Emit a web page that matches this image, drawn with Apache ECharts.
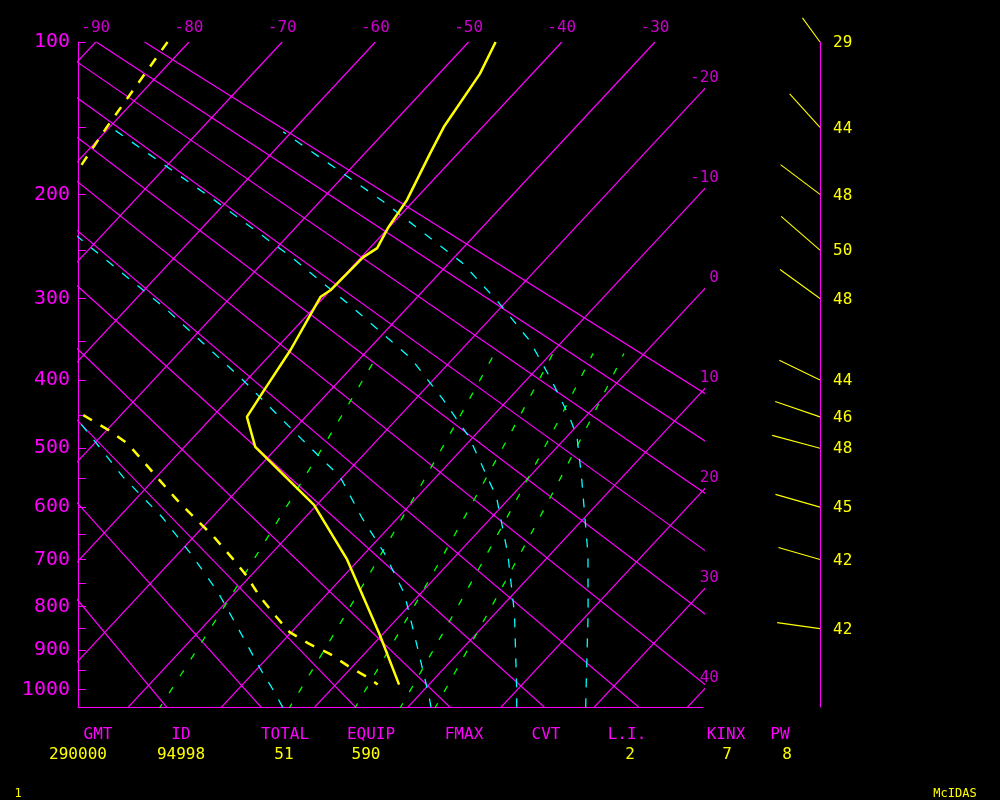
<!DOCTYPE html>
<html>
<head>
<meta charset="utf-8">
<script src="https://cdn.jsdelivr.net/npm/echarts@6/dist/echarts.min.js"></script>
<style>
html,body{margin:0;padding:0;background:#000;}
#chart{width:1000px;height:800px;}
</style>
</head>
<body>
<div id="chart"></div>
<script>
const pressureTicks = [100,150,200,250,300,350,400,450,500,550,600,650,700,750,800,850,900,950,1000];
const pressureLabels = [100,200,300,400,500,600,700,800,900,1000];
const isothermValues = [-90,-80,-70,-60,-50,-40,-30,-20,-10,0,10,20,30,40];
const topIsothermLabels = [-90,-80,-70,-60,-50,-40,-30];
const sideIsothermLabels = [-20,-10,0,10,20,30,40];
const dryAdiabatThetaC = [-20,-10,0,10,20,30,40,50,60,70,80,90];
const mixingRatios = [1,3,5,7,9];                 // g/kg

// moist adiabats (temperature degC / pressure hPa pairs)
const moistAdiabatTemps = [
  [-3.4,-6.1,-9.4,-15.5,-21.9,-28.6,-35.4,-43.6,-53.7,-58.0],
  [12.5,11.3,5.4,-1.7,-7.8,-14.0,-20.3,-28.3,-40.7,-55.9,-70.8,-97.5],
  [21.7,20.0,12.1,5.4,-1.5,-10.5,-17.1,-24.6,-35.7,-47.2,-61.4,-80.2],
  [29.1,26.8,20.0,14.0,5.6,1.1,-1.7,-7.3,-13.6,-20.8,-28.7,-43.2,-60.9]
];
const moistAdiabatPress = [
  [1047,1002,951,858,768,689,618,547,460,428],
  [1047,1020,901,772,689,618,547,485,398,311,244,150],
  [1047,1002,816,689,582,482,426,371,311,258,205,149],
  [1047,985,816,689,547,482,452,400,349,304,262,206,153]
];

const tempPressure = [987,862,700,596,498,452,410,361,298,291,257,248,228,205,168,149,117,100];
const tempValues   = [6.8,-0.4,-11.3,-20.3,-32.4,-36.3,-37.2,-38.3,-40.4,-40.0,-39.8,-39.2,-40.1,-40.8,-43.0,-44.2,-45.6,-47.1];

const dewPressure = [100,150,178,200,300,400,447,472,493,520,553,587,618,655,699,733,776,820,858,886,910,943,972,987];
const dewValues   = [-82.3,-80.3,-79.2,-86,-78,-64,-54.5,-49.8,-46.4,-43.1,-39.3,-35.5,-32.0,-27.9,-23.6,-20.5,-17.1,-13.4,-10.2,-6.9,-3.7,-0.2,3.1,4.5];

const windPressure  = [100,150,200,250,300,400,452,500,600,700,850];
const windSpeed     = [29,44,48,50,48,44,46,48,45,42,42];
const windDirection = [324,318,307,311,306,296,289,285,286,286,278];

const statNames  = ['GMT','ID','TOTAL','EQUIP','FMAX','CVT','L.I.','KINX','PW'];
const statValues = ['290000','94998','51','590','','','2','7','8'];

// ---------------- layout / style ----------------
const statNameX  = [98,181,285,371,464,546,627,726,780];
const statValueX = [78,181,284,366,464,546,630,727,787];
const MAG = '#ff00ff', YEL = '#ffff00', CYA = '#00ffff', GRN = '#00ff00';
const MONO = '"DejaVu Sans Mono", monospace';

// ---------------- thermodynamic diagram coordinates ----------------
const K = 0.286;
const THETA_OFFSET = 0.8;
const Y100 = Math.pow(100, K);
const PX_PER_Y = 186.17;
const GRID_TOP = 42, GRID_H = 665, GRID_LEFT = 78, GRID_W = 625;
const YMAX = Y100 + GRID_H / PX_PER_Y;
const SKEW = 18.617;
const XMIN = -91.91, XMAX = XMIN + GRID_W / 9.32;
function yOf(p){ return Math.pow(p, K); }
function xy(T, p){ const Y = yOf(p); return [T - SKEW * (Y - Y100), Y]; }

function mixLine(w){
  const pts = [];
  for (let p = 1100; p >= 362; p -= 5){
    const es = w * p / (622 + w);
    const l = Math.log(es / 6.112);
    pts.push(xy(243.5 * l / (17.67 - l), p));
  }
  return pts;
}
function dryLine(thC){
  return [1100, 100].map(p => xy((thC + 273.15 + THETA_OFFSET) * Math.pow(p / 1000, K) - 273.15, p));
}

function lineSeries(data, color, width, type, z){
  return { type:'line', xAxisIndex:0, yAxisIndex:0, data, symbol:'none', silent:true,
           animation:false, clip:true, z, lineStyle:{ color, width, type } };
}

const series = [];
isothermValues.forEach(T => series.push(lineSeries([xy(T,1100), xy(T,100)], MAG, 1.2, 'solid', 2)));
dryAdiabatThetaC.forEach(th => series.push(lineSeries(dryLine(th), MAG, 1.2, 'solid', 2)));
mixingRatios.forEach(w => series.push(lineSeries(mixLine(w), GRN, 1.3, [7,13], 3)));
moistAdiabatTemps.forEach((ts, i) => series.push(lineSeries(ts.map((t, j) => xy(t, moistAdiabatPress[i][j])), CYA, 1.3, [9,11], 4)));
series.push(lineSeries(tempPressure.map((p,i) => xy(tempValues[i], p)), YEL, 2.5, 'solid', 6));
series.push(lineSeries(dewPressure.map((p,i) => xy(dewValues[i], p)), YEL, 2.5, [10,10], 6));

const labelBase = { show:true, position:'inside', color:MAG, fontFamily:MONO, fontSize:16 };
series.push({
  type:'scatter', xAxisIndex:0, yAxisIndex:0, silent:true, animation:false, clip:false,
  symbolSize:1, itemStyle:{ color:'rgba(0,0,0,0)' }, z:7,
  data: topIsothermLabels.map(T => ({ value:[T, Y100],
        label:Object.assign({}, labelBase, { align:'center', verticalAlign:'middle', offset:[0,-14], formatter:String(T) }) }))
    .concat(sideIsothermLabels.map(T => ({ value:[XMAX, Y100 + (T - XMAX) / SKEW],
        label:Object.assign({}, labelBase, { align:'right', verticalAlign:'middle', offset:[16,-13], formatter:String(T) }) })))
});

series.push({
  type:'custom', xAxisIndex:1, yAxisIndex:1, silent:true, animation:false, clip:false, z:7,
  data: windPressure.map((p,i) => [1, yOf(p), windSpeed[i], windDirection[i]]),
  encode:{ x:0, y:1 },
  renderItem: (params, api) => {
    const pt = api.coord([api.value(0), api.value(1)]);
    const sp = api.value(2), d = api.value(3) * Math.PI / 180, L = sp * 1.03;
    return { type:'group', children:[
      { type:'line', shape:{ x1:pt[0], y1:pt[1], x2:pt[0] + L * Math.sin(d), y2:pt[1] - L * Math.cos(d) },
        style:{ stroke:YEL, lineWidth:1.1 } },
      { type:'text', x:pt[0] + 13, y:pt[1] + 1,
        style:{ text:String(sp), fill:YEL, font:'16px ' + MONO, align:'left', verticalAlign:'middle',
                textAlign:'left', textVerticalAlign:'middle' } }
    ]};
  }
});

function txt(s, x, y, color, size){
  return { type:'text', x, y, silent:true,
    style:{ text:s, fill:color, font:size + 'px ' + MONO, align:'center', verticalAlign:'middle',
            textAlign:'center', textVerticalAlign:'middle' } };
}
const graphic = [];
statNames.forEach((s,i) => graphic.push(txt(s, statNameX[i], 735, MAG, 16)));
statValues.forEach((s,i) => { if (s) graphic.push(txt(s, statValueX[i], 755, YEL, 16)); });
graphic.push(txt('1', 18, 794, YEL, 12));
graphic.push(txt('McIDAS', 955, 794, YEL, 12));

const option = {
  backgroundColor:'#000',
  animation:false,
  grid:[
    { left:GRID_LEFT, top:GRID_TOP, width:GRID_W, height:GRID_H, containLabel:false },
    { left:760, top:GRID_TOP, width:60, height:GRID_H, containLabel:false }
  ],
  xAxis:[
    { type:'value', gridIndex:0, min:XMIN, max:XMAX, position:'bottom',
      axisLine:{ show:true, onZero:false, lineStyle:{ color:MAG, width:1 } },
      axisTick:{ show:false }, axisLabel:{ show:false }, splitLine:{ show:false } },
    { type:'value', gridIndex:1, min:0, max:1, show:false }
  ],
  yAxis:[
    { type:'value', gridIndex:0, inverse:true, min:Y100, max:YMAX, position:'left',
      axisLine:{ show:true, onZero:false, lineStyle:{ color:MAG, width:1 } },
      axisTick:{ show:true, inside:true, length:8, customValues:pressureTicks.map(yOf), lineStyle:{ color:MAG, width:1 } },
      axisLabel:{ show:true, customValues:pressureLabels.map(yOf),
                  formatter: v => String(Math.round(Math.pow(v, 1 / K))),
                  color:MAG, fontFamily:MONO, fontSize:20, margin:8 },
      splitLine:{ show:false } },
    { type:'value', gridIndex:1, inverse:true, min:Y100, max:YMAX, position:'right',
      axisLine:{ show:true, onZero:false, lineStyle:{ color:MAG, width:1 } },
      axisTick:{ show:false }, axisLabel:{ show:false }, splitLine:{ show:false } }
  ],
  graphic,
  series
};
echarts.init(document.getElementById('chart'), null, { renderer:'canvas' }).setOption(option);
</script>
</body>
</html>
